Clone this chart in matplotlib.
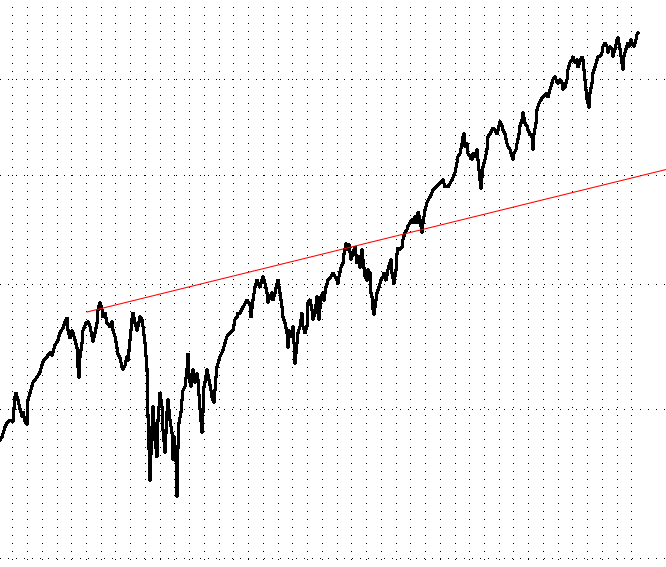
import numpy as np
import matplotlib
matplotlib.use("Agg")
import matplotlib.pyplot as plt

# bar number / closing level (log price scale)
bar = [0, 2, 5, 7, 10, 13, 15, 16, 18, 20, 22, 23, 25, 27, 28, 30, 33, 37, 40, 43,
       47, 50, 52, 55, 58, 60, 63, 65, 67, 68, 70, 72, 73, 75, 77, 78, 79, 80, 82, 83,
       86, 88, 90, 92, 93, 95, 97, 98, 100, 102, 103, 105, 107, 110, 112, 113, 115, 117, 118, 120,
       122, 123, 125, 127, 128, 130, 132, 133, 135, 137, 138, 140, 142, 143, 145, 147, 148, 149, 150, 152,
       153, 155, 157, 158, 160, 162, 163, 165, 167, 168, 170, 172, 173, 174, 176, 177, 178, 179, 181, 182,
       183, 185, 187, 188, 189, 191, 192, 193, 195, 197, 198, 200, 202, 203, 204, 206, 207, 209, 211, 212,
       214, 216, 217, 220, 223, 225, 227, 230, 233, 235, 237, 238, 240, 243, 247, 250, 251, 253, 255, 257,
       258, 260, 262, 263, 265, 267, 268, 270, 272, 273, 275, 277, 278, 280, 282, 283, 285, 287, 288, 289,
       291, 293, 294, 295, 297, 298, 300, 302, 303, 305, 307, 308, 310, 312, 313, 315, 317, 318, 319, 321,
       323, 324, 326, 328, 331, 333, 335, 337, 338, 339, 341, 343, 344, 346, 347, 349, 351, 352, 354, 355,
       357, 358, 360, 362, 363, 365, 367, 368, 370, 371, 372, 373, 374, 376, 377, 379, 381, 383, 384, 386,
       388, 389, 391, 392, 394, 396, 397, 398, 400, 402, 403, 405, 407, 408, 410, 412, 413, 415, 417, 418,
       420, 422, 423, 425, 427, 429, 431, 433, 436, 438, 440, 443, 445, 448, 452, 455, 457, 458, 460, 462,
       463, 464, 465, 467, 468, 470, 472, 473, 475, 477, 478, 480, 481, 482, 483, 485, 487, 488, 490, 492,
       493, 495, 497, 498, 500, 502, 503, 505, 507, 508, 510, 512, 513, 514, 516, 517, 519, 520, 522, 523,
       525, 527, 528, 530, 532, 533, 534, 536, 537, 539, 541, 543, 545, 547, 548, 550, 552, 553, 555, 557,
       558, 560, 562, 563, 565, 567, 568, 570, 572, 573, 575, 577, 578, 580, 582, 583, 584, 585, 586, 587,
       589, 590, 592, 593, 595, 597, 598, 600, 602, 603, 605, 607, 608, 610, 612, 613, 615, 617, 618, 620,
       622, 623, 624, 626, 628, 629, 631, 632, 634, 636, 637, 638]
close = [578, 580, 587, 590, 592, 591, 609, 612, 607, 600, 595, 598, 591, 589, 607, 612, 620, 624, 628, 636,
         640, 643, 641, 649, 653, 659, 663, 668, 671, 661, 655, 661, 659, 653, 647, 632, 624, 640, 651, 661,
         667, 668, 664, 656, 652, 659, 667, 678, 684, 678, 672, 675, 667, 664, 668, 661, 656, 647, 642, 639,
         632, 630, 633, 640, 637, 653, 670, 675, 667, 661, 664, 672, 670, 664, 651, 630, 595, 573, 550, 587,
         602, 578, 566, 592, 612, 602, 585, 569, 598, 607, 592, 583, 564, 580, 564, 539, 573, 590, 598, 607,
         614, 617, 630, 642, 624, 617, 627, 630, 620, 627, 622, 600, 583, 598, 617, 624, 630, 622, 614, 609,
         605, 624, 632, 640, 645, 651, 656, 659, 661, 670, 672, 675, 675, 680, 686, 682, 672, 686, 697, 703,
         701, 697, 703, 706, 700, 692, 684, 689, 692, 686, 692, 700, 703, 692, 680, 672, 667, 659, 647, 661,
         656, 664, 651, 635, 651, 659, 664, 675, 664, 659, 664, 684, 686, 678, 670, 675, 689, 680, 670, 689,
         692, 686, 697, 703, 706, 709, 706, 703, 700, 706, 714, 718, 726, 735, 730, 734, 721, 724, 730, 732,
         718, 724, 714, 730, 721, 706, 703, 712, 709, 692, 689, 678, 674, 686, 692, 697, 703, 706, 709, 703,
         712, 715, 721, 709, 700, 712, 726, 731, 730, 732, 739, 745, 748, 751, 754, 757, 754, 760, 754, 764,
         757, 745, 754, 766, 773, 777, 780, 785, 788, 790, 792, 795, 788, 788, 795, 802, 812, 818, 821, 831,
         838, 841, 828, 831, 821, 818, 815, 821, 818, 825, 815, 795, 787, 798, 808, 815, 825, 838, 841, 845,
         847, 845, 841, 845, 854, 849, 845, 841, 831, 828, 825, 818, 815, 821, 825, 831, 841, 849, 856, 863,
         852, 849, 845, 841, 838, 825, 841, 852, 866, 873, 877, 880, 882, 884, 880, 888, 895, 899, 902, 896,
         895, 899, 895, 888, 891, 899, 910, 918, 921, 924, 918, 921, 913, 919, 924, 921, 910, 899, 888, 877,
         869, 884, 895, 906, 913, 921, 924, 925, 929, 936, 940, 936, 929, 936, 933, 925, 933, 944, 946, 933,
         918, 910, 925, 933, 940, 936, 944, 940, 936, 944, 950, 952]

# trend line drawn on the chart
trend_bar = [87, 666]
trend_level = [676, 805]

price_levels = [500, 600, 700, 800, 900]

plt.rcParams['lines.scale_dashes'] = False

fig = plt.figure(figsize=(6.66, 5.67), dpi=100)
ax = fig.add_axes([0, 0, 1, 1])
ax.set_yscale('log')

dots = (0, (0.72, 5.04))
for level in price_levels:
    ax.axhline(level, color='black', lw=0.72, ls=dots, antialiased=False, zorder=0)
for gx in np.arange(43) * 14.74 + 12.3:
    ax.axvline(gx, color='black', lw=0.72, ls=dots, antialiased=False, zorder=0)

ax.plot(bar, close, color='black', lw=1.5, antialiased=False, zorder=2)
ax.plot(trend_bar, trend_level, color='red', lw=0.75, zorder=3)

ax.set_xlim(0, 666)
ax.set_ylim(494.5, 991)
ax.set_xticks([])
ax.set_yticks([])
ax.minorticks_off()
for s in ax.spines.values():
    s.set_visible(False)

fig.savefig('out.png', dpi=100)
